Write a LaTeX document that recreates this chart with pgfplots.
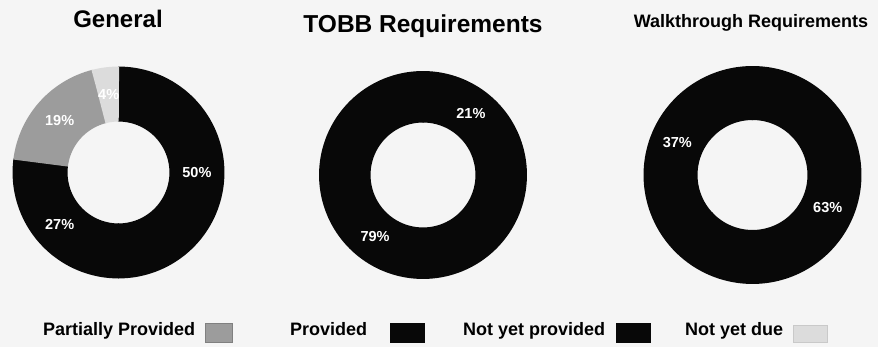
\documentclass[border=0pt]{standalone}
\usepackage{pgfplots}
\pgfplotsset{compat=1.18}
\usepackage{fontspec}
\setmainfont{Liberation Sans}
\definecolor{prov}{HTML}{080808}
\definecolor{notprov}{HTML}{080808}
\definecolor{partial}{HTML}{9C9C9C}
\definecolor{notdue}{HTML}{DCDCDC}
\definecolor{bg}{HTML}{F5F5F5}
% #1 start (cumulative %), #2 share (%), #3 colour, #4 mid radius (axis units), #5 ring width
\newcommand{\slice}[5]{%
  \pgfmathsetmacro\sa{90-3.6*(#1+#2)-0.3}%
  \pgfmathsetmacro\sb{90-3.6*(#1)+0.3}%
  \pgfmathsetmacro\sm{90-3.6*(#1+#2/2)}%
  \pgfmathsetmacro\lx{#4*cos(\sm)}%
  \pgfmathsetmacro\ly{#4*sin(\sm)}%
  \edef\temp{\noexpand\addplot[draw=#3, line width=#5, domain=\sa:\sb, samples=180] ({#4*cos(x)},{#4*sin(x)});
    \noexpand\node[lbl] at (axis cs:\lx,\ly) {#2\noexpand\%};}%
  \temp}
\pgfplotsset{donut/.style={hide axis, scale only axis, anchor=center, clip=false,
  xmin=-1, xmax=1, ymin=-1, ymax=1}}
\tikzset{lbl/.style={text=white, font=\fontsize{14.5}{16}\selectfont\bfseries}}
\begin{document}
\begin{tikzpicture}[x=1pt,y=1pt]
\useasboundingbox (0,0) rectangle (878,347);
\fill[bg] (0,0) rectangle (878,347);
% General
\begin{axis}[donut, at={(118.5pt,174.5pt)}, width=212pt, height=212pt]
\slice{0}{50}{prov}{0.74}{55pt}
\slice{50}{27}{notprov}{0.74}{55pt}
\slice{77}{19}{partial}{0.74}{55pt}
\slice{96}{4}{notdue}{0.74}{55pt}
\end{axis}
% TOBB
\begin{axis}[donut, at={(423pt,172pt)}, width=208pt, height=208pt]
\slice{0}{21}{prov}{0.752}{51.5pt}
\slice{21}{79}{notprov}{0.752}{51.5pt}
\end{axis}
% Walkthrough
\begin{axis}[donut, at={(752.5pt,172pt)}, width=218pt, height=218pt]
\slice{0}{63}{prov}{0.752}{54pt}
\slice{63}{37}{notprov}{0.752}{54pt}
\end{axis}
% titles
\node[anchor=base, font=\fontsize{24}{28}\selectfont\bfseries] at (118,319) {General};
\node[anchor=base, font=\fontsize{24.5}{28}\selectfont\bfseries] at (423,314) {TOBB Requirements};
\node[anchor=base, font=\fontsize{18}{22}\selectfont\bfseries] at (751,319) {Walkthrough Requirements};
% legend
\begin{scope}[every node/.style={anchor=base west, inner sep=0pt, font=\fontsize{18}{20}\selectfont\bfseries}]
\node at (43,11) {Partially Provided};
\filldraw[fill=partial, draw=gray, line width=0.8pt] (205,5) rectangle (232,24);
\node at (290,11) {Provided};
\fill[prov] (390,4) rectangle (425,24);
\node at (463,11) {Not yet provided};
\fill[notprov] (616,4) rectangle (651,24);
\node at (685,11) {Not yet due};
\filldraw[fill=notdue, draw=notdue!80!gray, line width=0.6pt] (793,5) rectangle (827,22);
\end{scope}
\end{tikzpicture}
\end{document}
